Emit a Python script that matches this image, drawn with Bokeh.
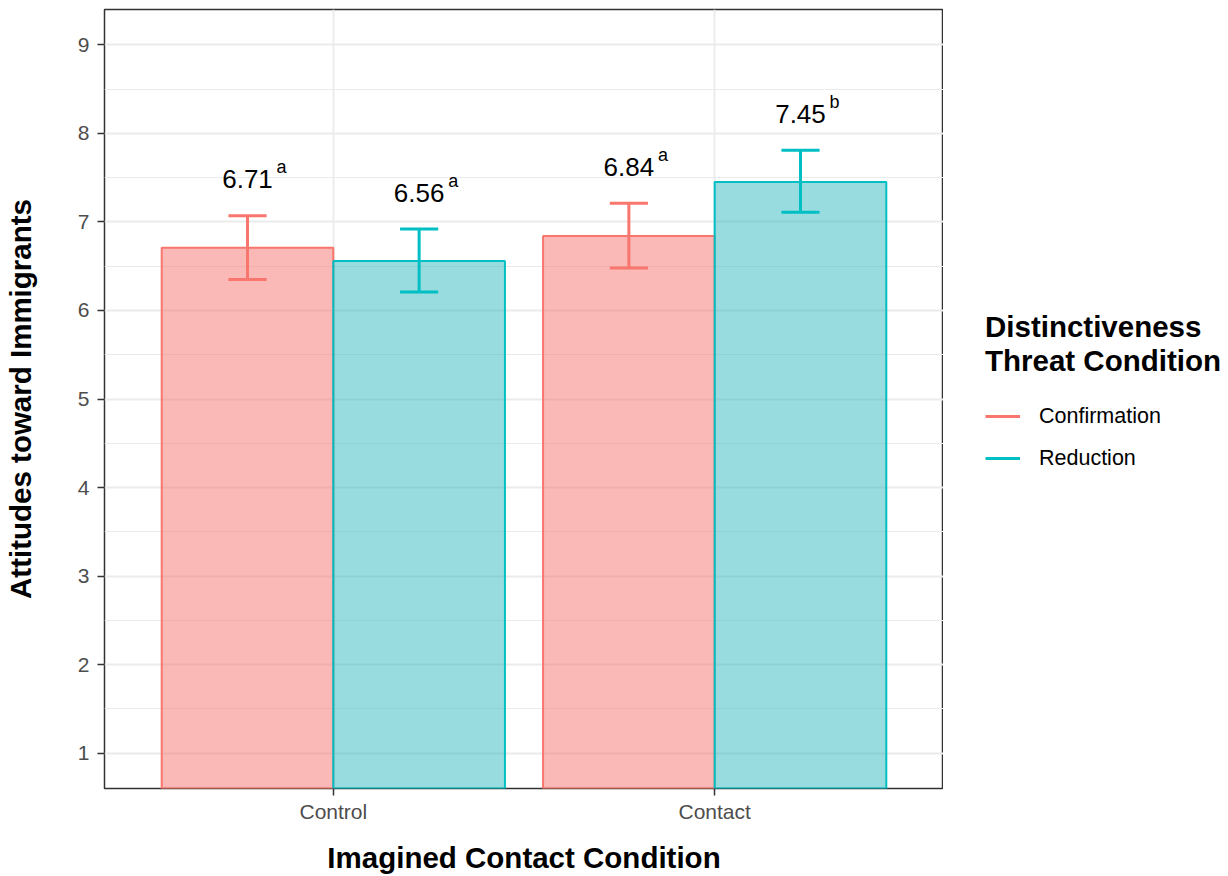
from bokeh.plotting import figure
from bokeh.layouts import row
from bokeh.models import ColumnDataSource, FactorRange, FixedTicker, Legend, LegendItem
from bokeh.transform import dodge
from bokeh.core.properties import value
from bokeh.embed import file_html
from bokeh.resources import INLINE

# ---- data ----
conditions = ["Control", "Contact"]
series = ["Confirmation", "Reduction"]
conf_mean = [6.71, 6.84]
conf_lower = [6.35, 6.48]
conf_upper = [7.07, 7.21]
conf_sup = ["a", "a"]
red_mean = [6.56, 7.45]
red_lower = [6.21, 7.11]
red_upper = [6.92, 7.81]
red_sup = ["a", "b"]
y_ticks = [1, 2, 3, 4, 5, 6, 7, 8, 9]
y_minor = [1.5, 2.5, 3.5, 4.5, 5.5, 6.5, 7.5, 8.5]

line_colors = ["#F8766D", "#00BFC4"]
fill_colors = ["#F5736F", "#31BAC0"]
FONT = "Liberation Sans"
LABEL_GAP = 0.41

p = figure(width=943, height=876, output_backend="svg", toolbar_location=None,
           x_range=FactorRange(factors=conditions, range_padding=0.1,
                               range_padding_units="absolute"),
           y_range=(0.6, 9.4),
           min_border_left=104, min_border_right=0, min_border_top=9,
           min_border_bottom=88)

p.background_fill_color = "white"
p.border_fill_color = "white"
p.outline_line_color = "#333333"
p.outline_line_width = 1.5

# grids
p.xgrid.grid_line_color = "#EBEBEB"
p.xgrid.grid_line_width = 1.8
p.ygrid.grid_line_color = "#EBEBEB"
p.ygrid.grid_line_width = 1.8
p.ygrid.minor_grid_line_color = "#EBEBEB"
p.ygrid.minor_grid_line_width = 1.0
p.yaxis.ticker = FixedTicker(ticks=y_ticks, minor_ticks=y_minor)

for ax in (p.xaxis, p.yaxis):
    ax.axis_line_color = None
    ax.major_tick_line_color = "#333333"
    ax.major_tick_line_width = 1.5
    ax.major_tick_out = 7
    ax.major_tick_in = 0
    ax.minor_tick_line_color = None
    ax.major_label_text_color = "#4D4D4D"
    ax.major_label_text_font = FONT
    ax.major_label_text_font_size = "21px"
    ax.axis_label_text_font = FONT
    ax.axis_label_text_font_style = "bold"
    ax.axis_label_text_font_size = "29.5px"
    ax.axis_label_text_color = "black"

p.xaxis.axis_label = "Imagined Contact Condition"
p.xaxis.major_label_standoff = 4
p.xaxis.axis_label_standoff = 15
p.yaxis.axis_label = "Attitudes toward Immigrants"
p.yaxis.major_label_standoff = 8
p.yaxis.axis_label_standoff = 38

offsets = [-0.225, 0.225]
means = [conf_mean, red_mean]
lowers = [conf_lower, red_lower]
uppers = [conf_upper, red_upper]
sups = [conf_sup, red_sup]

# ---- legend panel (separate figure to the right of the panel) ----
q = figure(width=285, height=876, output_backend="svg", toolbar_location=None,
           min_border=0, x_range=FactorRange(factors=conditions), y_range=(0, 1))
q.outline_line_color = None
q.axis.visible = False
q.grid.visible = False
q.background_fill_color = "white"
q.border_fill_color = "white"

items = []
for i, name in enumerate(series):
    src = ColumnDataSource(dict(
        cond=conditions,
        mean=means[i],
        lower=lowers[i],
        upper=uppers[i],
        zero=[0] * len(conditions),
        lab=["%.2f" % m for m in means[i]],
        labpos=[u + LABEL_GAP for u in uppers[i]],
        sup=sups[i],
    ))
    off = offsets[i]
    xc = dodge("cond", off, range=p.x_range)
    p.vbar(x=xc, top="mean", bottom="zero", width=0.45, source=src,
           fill_color=fill_colors[i], fill_alpha=0.5, line_color=line_colors[i],
           line_width=2)
    p.segment(x0=xc, x1=xc, y0="lower", y1="upper", source=src,
              line_color=line_colors[i], line_width=3)
    for yk in ("lower", "upper"):
        p.segment(x0=dodge("cond", off - 0.05, range=p.x_range),
                  x1=dodge("cond", off + 0.05, range=p.x_range),
                  y0=yk, y1=yk, source=src, line_color=line_colors[i], line_width=3)
    p.text(x=xc, y="labpos", text="lab", source=src, text_align="center",
           text_baseline="alphabetic", text_font=value(FONT),
           text_font_size="26px", text_color="black")
    p.text(x=xc, y="labpos", text="sup", source=src, text_align="left",
           text_baseline="alphabetic", text_font=value(FONT),
           text_font_size="18px", text_color="black", x_offset=29, y_offset=-12)
    # legend key: the same error-bar stems, outside the (empty) legend panel's view
    key = q.segment(x0="cond", x1="cond", y0="lower", y1="upper", source=src,
                    line_color=line_colors[i], line_width=3)
    items.append(LegendItem(label=name, renderers=[key]))

legend = Legend(items=items, location=(42, 309), orientation="vertical")
legend.title = "Distinctiveness\nThreat Condition"
legend.title_text_font = FONT
legend.title_text_font_style = "bold"
legend.title_text_font_size = "29.5px"
legend.title_text_line_height = 0.88
legend.title_text_color = "black"
legend.title_standoff = 17
legend.label_text_font = FONT
legend.label_text_font_size = "21.5px"
legend.label_text_color = "black"
legend.glyph_width = 35
legend.glyph_height = 42
legend.label_height = 42
legend.label_standoff = 19
legend.spacing = 0
legend.padding = 0
legend.margin = 0
legend.border_line_color = None
legend.background_fill_color = None
q.add_layout(legend, "center")

layout = row(p, q, spacing=0)
open("out.html", "w").write(file_html(layout, INLINE))
